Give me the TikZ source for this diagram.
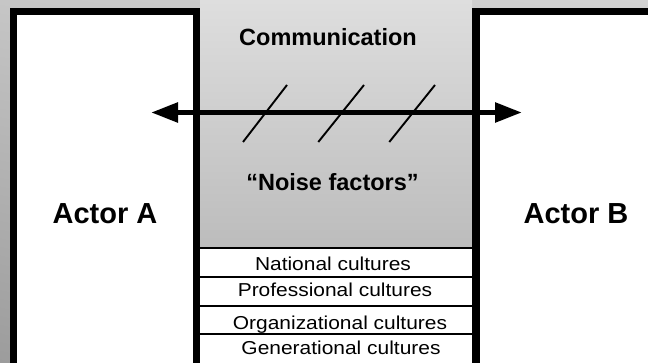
\documentclass[tikz,border=0pt]{standalone}
\usepackage{fontspec}
\setmainfont{Liberation Sans}
\newfontfamily\rowfont{Liberation Sans}[FakeStretch=1.12]
\usetikzlibrary{arrows.meta,shadings}
\definecolor{bgul}{HTML}{C6C6C6}
\definecolor{bgur}{HTML}{D2D2D2}
\definecolor{bgll}{HTML}{9C9C9C}
\definecolor{bglr}{HTML}{B0B0B0}
\definecolor{midtop}{HTML}{DEDEDE}
\definecolor{midbot}{HTML}{BCBCBC}
\begin{document}
\begin{tikzpicture}[x=1pt,y=-1pt,
  actorbox/.style={draw=black, line width=7.5pt, fill=white},
  rowbox/.style={draw=black, line width=2.3pt, fill=white},
  titlelabel/.style={font=\fontsize{23.5}{28}\selectfont\bfseries, anchor=base, inner sep=0pt},
  actorlabel/.style={font=\fontsize{29}{34}\selectfont\bfseries, anchor=base, inner sep=0pt},
  rowlabel/.style={font=\rowfont\fontsize{18.7}{22}\selectfont, anchor=base, inner sep=0pt},
  slash/.style={line width=1.9pt},
  link/.style={line width=5.5pt, {Triangle[length=27pt,width=19pt]}-{Triangle[length=27pt,width=19pt]}}
]
\useasboundingbox (0,0) rectangle (648,363);
\begin{scope}
\clip (0,0) rectangle (648,363);
\shade[upper left=bgul, upper right=bgur, lower left=bgll, lower right=bglr] (0,0) rectangle (648,363);
\shade[top color=midtop, bottom color=midbot] (200,0) rectangle (472,248);
% culture rows
\draw[rowbox] (199,248.3) rectangle (473,276.7);
\draw[rowbox] (199,276.7) rectangle (473,306);
\draw[rowbox] (199,306) rectangle (473,334.3);
\draw[rowbox] (199,334.3) rectangle (473,375);
% actor boxes
\draw[actorbox] (13.25,11.75) rectangle (196.25,372);
\draw[actorbox] (475.75,11.75) rectangle (662,372);
\end{scope}
% labels
\node[titlelabel] (comm) at (328,46) {Communication};
\node[titlelabel] (noise) at (332.5,190.5) {“Noise factors”};
\node[actorlabel] (actorA) at (105,223.5) {Actor A};
\node[actorlabel] (actorB) at (576,223.5) {Actor B};
\node[rowlabel] (national) at (333,270.3) {National cultures};
\node[rowlabel] (professional) at (335,296.8) {Professional cultures};
\node[rowlabel] (organizational) at (340,329.5) {Organizational cultures};
\node[rowlabel] (generational) at (341,354) {Generational cultures};
% communication arrow
\coordinate (aL) at (151,112.5);
\coordinate (aR) at (522,112.5);
\draw[link] (aL) -- (aR);
% noise slashes
\draw[slash] (243,142) -- (287,85);
\draw[slash] (318.3,142) -- (364,85);
\draw[slash] (389.3,142) -- (435,85);
\end{tikzpicture}
\end{document}
